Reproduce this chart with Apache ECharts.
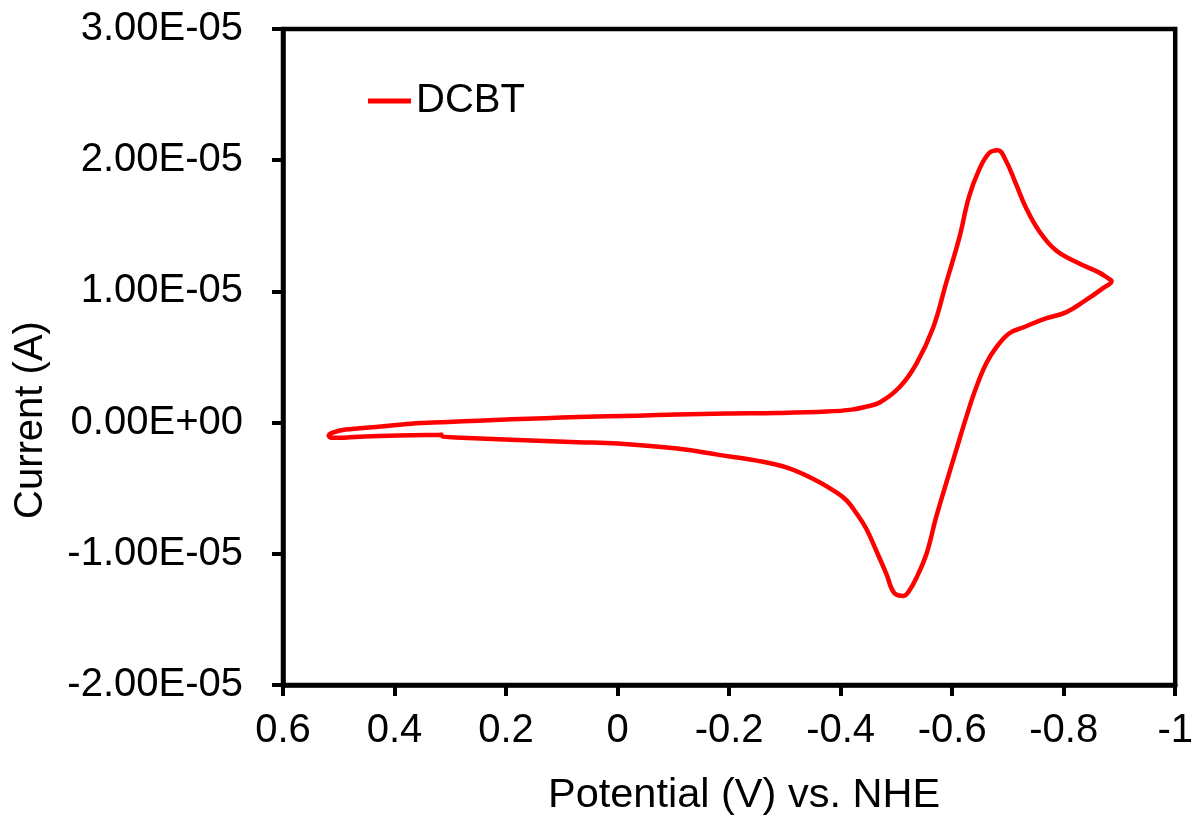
<!DOCTYPE html>
<html>
<head>
<meta charset="utf-8">
<script src="https://cdn.jsdelivr.net/npm/echarts@6/dist/echarts.min.js"></script>
<style>
html,body{margin:0;padding:0;background:#fff;}
#chart{width:1196px;height:820px;}
</style>
</head>
<body>
<div id="chart"></div>
<script>
// Potential (V vs. NHE), scan path order
var potentials = [
  0.316, 0.393, 0.464, 0.500, 0.514, 0.518, 0.511, 0.488, 0.429, 0.370,
  0.304, 0.250, 0.130, 0.071, -0.036, -0.107, -0.196, -0.286, -0.375, -0.420,
  -0.446, -0.470, -0.505, -0.536, -0.566, -0.589, -0.613, -0.630, -0.648, -0.666,
  -0.682, -0.696, -0.714, -0.732, -0.755, -0.786, -0.827, -0.863, -0.880, -0.886,
  -0.870, -0.839, -0.804, -0.768, -0.727, -0.702, -0.679, -0.661, -0.643, -0.625,
  -0.607, -0.589, -0.571, -0.554, -0.536, -0.523, -0.513, -0.496, -0.482, -0.464,
  -0.446, -0.429, -0.411, -0.393, -0.357, -0.304, -0.250, -0.179, -0.107, 0.000,
  0.071, 0.191, 0.280, 0.313, 0.316
];
// Current (A)
var currents = [
  -0.92e-6, -0.99e-6, -1.07e-6, -1.15e-6, -1.15e-6, -0.99e-6, -0.76e-6, -0.53e-6, -0.31e-6, -0.08e-6,
  0.04e-6, 0.15e-6, 0.34e-6, 0.42e-6, 0.53e-6, 0.61e-6, 0.69e-6, 0.73e-6, 0.84e-6, 0.99e-6,
  1.22e-6, 1.53e-6, 2.67e-6, 4.50e-6, 7.25e-6, 10.61e-6, 14.12e-6, 17.18e-6, 19.24e-6, 20.53e-6,
  20.76e-6, 20.00e-6, 18.24e-6, 16.41e-6, 14.66e-6, 13.13e-6, 12.14e-6, 11.45e-6, 10.99e-6, 10.80e-6,
  10.23e-6, 9.31e-6, 8.40e-6, 7.94e-6, 7.25e-6, 6.79e-6, 5.73e-6, 4.50e-6, 2.67e-6, 0.38e-6,
  -2.14e-6, -4.66e-6, -7.25e-6, -10.00e-6, -11.83e-6, -12.82e-6, -13.21e-6, -12.98e-6, -11.53e-6, -9.77e-6,
  -8.09e-6, -6.95e-6, -5.95e-6, -5.34e-6, -4.43e-6, -3.44e-6, -2.90e-6, -2.44e-6, -1.98e-6, -1.60e-6,
  -1.49e-6, -1.30e-6, -1.15e-6, -1.07e-6, -0.92e-6
];
var seriesName = 'DCBT';
var xTitle = 'Potential (V) vs. NHE';
var yTitle = 'Current (A)';

var pts = potentials.map(function (v, i) { return [v, currents[i]]; });

function fmtY(v) {
  var s = Math.abs(v) < 1e-12 ? (0).toExponential(2) : v.toExponential(2);
  var parts = s.split('e');
  var exp = parseInt(parts[1], 10);
  var sign = exp < 0 ? '-' : '+';
  var e = Math.abs(exp);
  return parts[0] + 'E' + sign + (e < 10 ? '0' + e : '' + e);
}
function fmtX(v) {
  var r = Math.round(v * 10) / 10;
  if (Math.abs(r) < 1e-9) return '0';
  return String(r);
}

var font = 'Liberation Sans, Arial, sans-serif';
var chart = echarts.init(document.getElementById('chart'), null, {renderer: 'canvas'});
chart.setOption({
  animation: false,
  backgroundColor: '#fff',
  grid: {left: 283, right: 18, top: 29, bottom: 135, show: true, borderColor: '#000', borderWidth: 4.5, backgroundColor: 'transparent'},
  legend: {
    left: 368, top: 81, padding: 0, itemWidth: 43, itemHeight: 5, icon: 'rect',
    textStyle: {fontFamily: font, fontSize: 40, color: '#000'},
    data: [seriesName]
  },
  xAxis: {
    type: 'value', inverse: true, min: -1, max: 0.6, interval: 0.2,
    splitLine: {show: false},
    axisLine: {show: true, onZero: false, lineStyle: {color: '#000', width: 4.5}},
    axisTick: {show: true, inside: false, length: 11, lineStyle: {color: '#000', width: 4}},
    axisLabel: {margin: 26, fontFamily: font, fontSize: 40, color: '#000', formatter: fmtX}
  },
  yAxis: {
    type: 'value', min: -2e-5, max: 3e-5, interval: 1e-5,
    splitLine: {show: false},
    axisLine: {show: true, onZero: false, lineStyle: {color: '#000', width: 4.5}},
    axisTick: {show: true, inside: false, length: 11, lineStyle: {color: '#000', width: 4}},
    axisLabel: {margin: 40, fontFamily: font, fontSize: 40, color: '#000', formatter: fmtY}
  },
  graphic: [
    {type: 'text', left: 548, top: 775, style: {text: xTitle, fontFamily: font, fontSize: 41.5, fill: '#000'}},
    {type: 'text', x: 31, y: 420, rotation: Math.PI / 2,
     style: {text: yTitle, fontFamily: font, fontSize: 40, fill: '#000', align: 'center', verticalAlign: 'middle'}}
  ],
  series: [{
    name: seriesName, type: 'line', data: pts, symbol: 'none', showSymbol: false,
    smooth: 0.4, clip: false,
    lineStyle: {color: '#ff0000', width: 4.5, join: 'round', cap: 'round'},
    itemStyle: {color: '#ff0000'}
  }]
});
</script>
</body>
</html>
